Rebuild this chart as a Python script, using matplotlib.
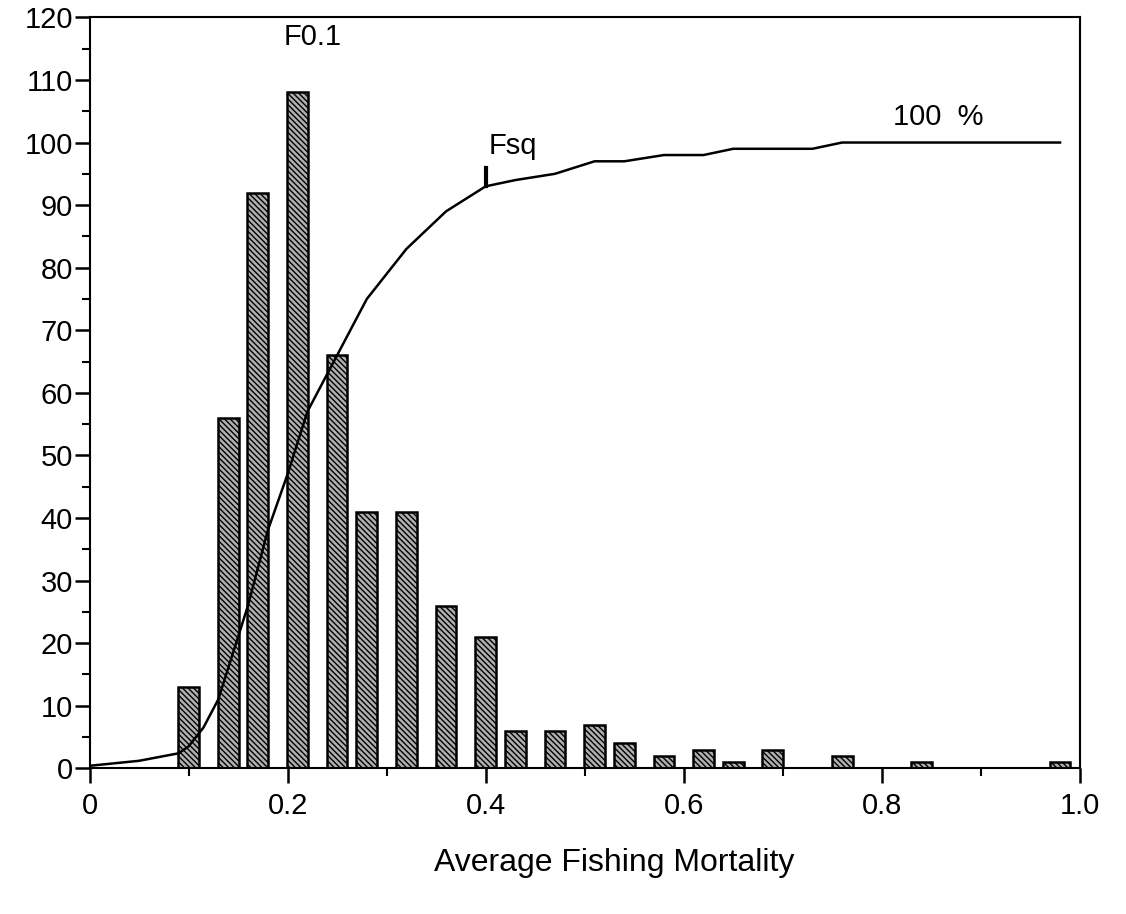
import matplotlib
matplotlib.use('Agg')
import matplotlib.pyplot as plt
from matplotlib.ticker import MultipleLocator

plt.rcParams['font.family'] = ['Liberation Sans', 'DejaVu Sans']
plt.rcParams['hatch.color'] = '#303030'
plt.rcParams['hatch.linewidth'] = 1.0

# bar histogram (number of runs per F class)
bar_x = [0.10, 0.14, 0.17, 0.21, 0.25, 0.28, 0.32, 0.36, 0.40, 0.43,
         0.47, 0.51, 0.54, 0.58, 0.62, 0.65, 0.69, 0.76, 0.84, 0.98]
bar_h = [13, 56, 92, 108, 66, 41, 41, 26, 21, 6,
         6, 7, 4, 2, 3, 1, 3, 2, 1, 1]

# cumulative percentage curve
line_x = [0.0, 0.05, 0.09, 0.10, 0.115, 0.13, 0.16, 0.18, 0.20, 0.22, 0.25, 0.28, 0.32,
          0.36, 0.40, 0.43, 0.47, 0.51, 0.54, 0.58, 0.62, 0.65, 0.73, 0.76, 0.98]
line_y = [0.4, 1.2, 2.4, 3.5, 6.5, 11, 26, 38, 47, 57, 66, 75, 83,
          89, 93, 94, 95, 97, 97, 98, 98, 99, 99, 100, 100]

fsq = 0.40
fsq_val = 93

fig = plt.figure(figsize=(11.26, 9.14), dpi=100)
ax = fig.add_axes([0.0795, 0.1594, 0.8795, 0.8216])

ax.bar(bar_x, bar_h, width=0.021, color='#b0b0b0', edgecolor='black',
       linewidth=1.8, hatch='\\\\\\\\\\\\', zorder=2)
ax.plot(line_x, line_y, color='black', linewidth=1.8, zorder=3)

# Fsq marker
ax.plot([fsq, fsq], [fsq_val, fsq_val + 3], color='black', linewidth=3, zorder=3)

ax.text(0.225, 116.8, 'F0.1', fontsize=21, ha='center', va='center')
ax.text(0.427, 99.4, 'Fsq', fontsize=21, ha='center', va='center')
ax.text(0.857, 104, '100  %', fontsize=21, ha='center', va='center')

ax.set_xlim(0, 1.0)
ax.set_ylim(0, 120)
ax.xaxis.set_minor_locator(MultipleLocator(0.1))
ax.yaxis.set_major_locator(MultipleLocator(10))
ax.yaxis.set_minor_locator(MultipleLocator(5))
ax.set_xticks([0, 0.2, 0.4, 0.6, 0.8, 1.0])
ax.set_xticklabels(['0', '0.2', '0.4', '0.6', '0.8', '1.0'])

ax.tick_params(axis='both', which='major', direction='out', length=11, width=1.8,
               labelsize=21)
ax.tick_params(axis='both', which='minor', direction='out', length=6, width=1.5)
ax.tick_params(axis='x', which='major', pad=6)
ax.tick_params(axis='y', which='major', pad=1)

for s in ax.spines.values():
    s.set_linewidth(1.5)

ax.set_xlabel('Average Fishing Mortality', fontsize=23)
ax.xaxis.set_label_coords(0.53, -0.106)

fig.savefig('out.png', dpi=100)
